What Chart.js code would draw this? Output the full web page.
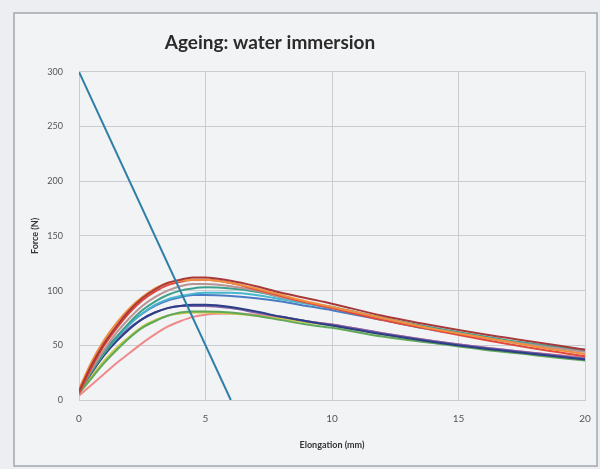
<!DOCTYPE html>
<html>
<head>
<meta charset="utf-8">
<script src="https://cdn.jsdelivr.net/npm/chart.js@4"></script>
<style>
  html, body { margin: 0; padding: 0; background: #eceef1; }
  #wrap { width: 600px; height: 469px; position: relative; }
</style>
</head>
<body>
<div id="wrap"><canvas id="c" width="600" height="469"></canvas></div>
<script>
// ---- data ----
const elongation = [0, 0.5, 1, 1.5, 2, 2.5, 3, 3.5, 4, 4.5, 5, 6, 7, 8, 9, 10, 12, 14, 16, 18, 20];
const sampleDarkRed  = [8, 32, 52, 68, 82, 93, 101, 107, 110, 112, 112, 109, 104, 98, 93, 88, 77, 68, 60, 53, 46];
const sampleOrange   = [10, 35, 55, 71, 84, 94, 102, 107, 109, 110, 110, 107, 102, 96, 90, 85, 75, 65, 57, 49, 42];
const sampleRed      = [6, 30, 50, 66, 80, 91, 99, 105, 108, 110, 110, 107, 101, 95, 89, 84, 73, 64, 55, 47, 40];
const sampleRose     = [7, 28, 46, 62, 75, 86, 94, 100, 104, 106, 106, 104, 100, 94, 89, 84, 74, 65, 57, 50, 44];
const sampleTeal     = [8, 26, 43, 58, 71, 82, 90, 96, 100, 102, 103, 102, 99, 94, 89, 85, 75, 66, 58, 51, 46];
const sampleLightBlue= [9, 27, 43, 57, 69, 79, 87, 92, 95, 97, 98, 98, 96, 92, 88, 84, 74, 65, 57, 51, 46];
const sampleBlue     = [10, 28, 45, 58, 70, 79, 86, 91, 94, 96, 96, 95, 93, 90, 86, 82, 73, 64, 57, 50, 45];
const sampleNavy     = [8, 25, 41, 54, 65, 74, 80, 84, 86, 87, 87, 85, 81, 76, 72, 68, 60, 53, 47, 42, 37];
const samplePurple   = [9, 26, 42, 55, 66, 74, 80, 84, 86, 86, 86, 84, 80, 76, 72, 69, 61, 54, 48, 43, 38];
const sampleGreen    = [6, 20, 34, 46, 57, 66, 72, 77, 80, 81, 81, 80, 77, 73, 69, 66, 58, 52, 46, 41, 36];
const sampleOlive    = [7, 22, 36, 48, 58, 67, 73, 77, 79, 80, 80, 79, 77, 74, 71, 68, 60, 53, 47, 42, 38];
const samplePink     = [4, 14, 24, 34, 43, 52, 60, 67, 72, 76, 78, 79, 78, 75, 72, 69, 61, 54, 48, 43, 39];
const limitLineX = [0, 6];
const limitLineY = [300, 0];
const xTicks = [0, 5, 10, 15, 20];
const yTicks = [0, 50, 100, 150, 200, 250, 300];

const curves = [
  ['Dark red', sampleDarkRed, '#a8393a'],
  ['Orange', sampleOrange, '#f0903f'],
  ['Red', sampleRed, '#e0483e'],
  ['Rose', sampleRose, '#b99494'],
  ['Teal', sampleTeal, '#3fa08a'],
  ['Light blue', sampleLightBlue, '#49b6d0'],
  ['Blue', sampleBlue, '#4a7cc4'],
  ['Navy', sampleNavy, '#2c3f86'],
  ['Purple', samplePurple, '#7d5ea8'],
  ['Green', sampleGreen, '#5fa85a'],
  ['Olive', sampleOlive, '#c8c84a'],
  ['Pink', samplePink, '#f08a8a']
];

const toPts = (xs, ys) => xs.map((x, i) => ({x: x, y: ys[i]}));

const datasets = [{
  label: 'Limit',
  data: toPts(limitLineX, limitLineY),
  borderColor: '#2f7ea6',
  borderWidth: 2,
  pointRadius: 0,
  tension: 0
}].concat(curves.map(c => ({
  label: c[0],
  data: toPts(elongation, c[1]),
  borderColor: c[2],
  borderWidth: 2,
  pointRadius: 0,
  cubicInterpolationMode: 'monotone'
})));

const frame = {
  id: 'frame',
  afterLayout(chart) {
    const t = chart.titleBlock;
    if (t) { t.left = 0; t.right = 540; t.width = 540; }
  },
  beforeDraw(chart) {
    const ctx = chart.ctx;
    ctx.save();
    ctx.fillStyle = '#eceef1';
    ctx.fillRect(0, 0, chart.width, chart.height);
    ctx.fillStyle = '#f2f3f5';
    ctx.fillRect(14, 13, 583, 453);
    ctx.strokeStyle = '#a3a7ad';
    ctx.lineWidth = 1.5;
    ctx.strokeRect(14, 13, 583, 453);
    ctx.restore();
  }
};

new Chart(document.getElementById('c'), {
  type: 'line',
  data: { datasets },
  plugins: [frame],
  options: {
    responsive: false,
    animation: false,
    layout: { padding: { left: 20, right: 15, top: 0, bottom: 12 } },
    plugins: {
      legend: { display: false },
      tooltip: { enabled: false },
      title: {
        display: true,
        text: 'Ageing: water immersion',
        color: '#2b2b2b',
        font: { family: 'Lato', size: 19, weight: 'bold' },
        padding: { top: 31, bottom: 18 },
        align: 'center'
      }
    },
    scales: {
      x: {
        type: 'linear',
        min: 0, max: 20,
        afterBuildTicks: s => { s.ticks = xTicks.map(v => ({value: v})); },
        ticks: { color: '#555', font: { family: 'Lato', size: 10 }, padding: 13 },
        grid: { color: '#c9cdd2', drawTicks: false },
        border: { color: '#c9cdd2' },
        title: { display: true, text: 'Elongation (mm)', color: '#333', font: { family: 'Lato', size: 9, weight: 'bold' }, padding: { top: 4, bottom: 7 } },
        afterFit: s => { s.height = 57; s.paddingRight = 0; }
      },
      y: {
        min: 0, max: 300,
        afterBuildTicks: s => { s.ticks = yTicks.map(v => ({value: v})); },
        ticks: { color: '#555', font: { family: 'Lato', size: 9 }, padding: 16 },
        grid: { color: '#c9cdd2', drawTicks: false },
        border: { color: '#c9cdd2' },
        title: { display: true, text: 'Force (N)', color: '#333', font: { family: 'Lato', size: 9, weight: 'bold' }, padding: { top: 10, bottom: 0 } },
        afterFit: s => { s.width = 59; }
      }
    }
  }
});
</script>
</body>
</html>
